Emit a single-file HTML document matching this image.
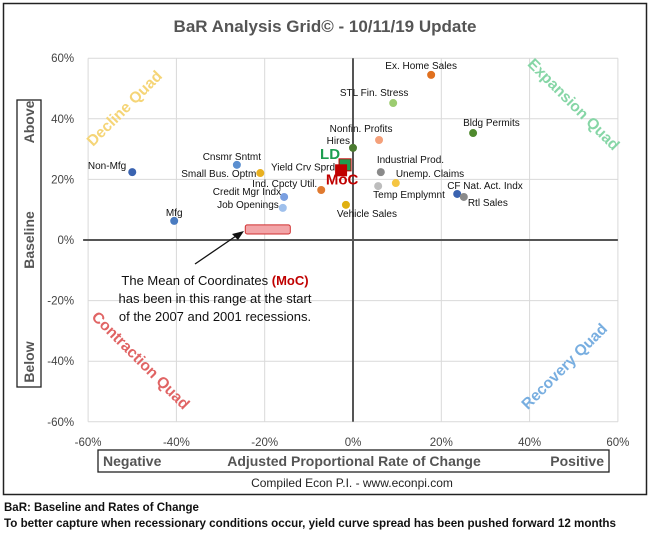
<!DOCTYPE html>
<html><head><meta charset="utf-8"><style>
body{margin:0;background:#fff;width:650px;height:532px;overflow:hidden;font-family:"Liberation Sans",sans-serif}
svg text{font-family:"Liberation Sans",sans-serif}
</style></head><body>
<svg id="chart" width="650" height="532" xmlns="http://www.w3.org/2000/svg">
<rect x="3.5" y="3.5" width="643" height="491" fill="#fff" stroke="#222" stroke-width="1.5"/>
<text x="325" y="32" text-anchor="middle" font-size="17" font-weight="bold" fill="#555">BaR Analysis Grid© - 10/11/19 Update</text>
<g id="grid"></g>
<g id="quads" font-size="15.5" font-weight="bold">
<text transform="translate(128,112) rotate(-45)" text-anchor="middle" fill="#f5d577">Decline Quad</text>
<text transform="translate(570,108) rotate(45)" text-anchor="middle" fill="#86d6a6">Expansion Quad</text>
<text transform="translate(137,364) rotate(45)" text-anchor="middle" fill="#e06464">Contraction Quad</text>
<text transform="translate(568,370) rotate(-45)" text-anchor="middle" fill="#78aee0">Recovery Quad</text>
</g>
<g id="marks"></g>
<g font-size="13" fill="#111" text-anchor="middle">
<text x="215" y="285">The Mean of Coordinates <tspan fill="#c00000" font-weight="bold">(MoC)</tspan></text>
<text x="215" y="303">has been in this range at the start</text>
<text x="215" y="321">of the 2007 and 2001 recessions.</text>
<line x1="195" y1="264" x2="236" y2="236" stroke="#111" stroke-width="1.3"/>
<polygon points="244,231 232,234 238,240" fill="#111"/>
</g>
<rect x="17" y="100" width="24" height="287" fill="none" stroke="#222" stroke-width="1.3"/>
<g font-size="14" font-weight="bold" fill="#555">
<text transform="translate(34,122) rotate(-90)" text-anchor="middle">Above</text>
<text transform="translate(34,240) rotate(-90)" text-anchor="middle">Baseline</text>
<text transform="translate(34,362) rotate(-90)" text-anchor="middle">Below</text>
</g>
<rect x="98" y="450" width="511" height="22" fill="none" stroke="#222" stroke-width="1.3"/>
<g font-size="14" font-weight="bold" fill="#555">
<text x="103" y="466">Negative</text>
<text x="354" y="466" text-anchor="middle">Adjusted Proportional Rate of Change</text>
<text x="604" y="466" text-anchor="end">Positive</text>
</g>
<text x="352" y="487" text-anchor="middle" font-size="12" fill="#222">Compiled Econ P.I. - www.econpi.com</text>
<text x="4" y="511" font-size="11.5" font-weight="bold" fill="#111">BaR: Baseline and Rates of Change</text>
<text x="4" y="527" font-size="11.5" font-weight="bold" fill="#111" textLength="612" lengthAdjust="spacingAndGlyphs">To better capture when recessionary conditions occur, yield curve spread has been pushed forward 12 months</text>
</svg>
<script>
const ticks=[-60,-40,-20,0,20,40,60];
const tickLabels=["-60%","-40%","-20%","0%","20%","40%","60%"];
const names=["Ex. Home Sales","STL Fin. Stress","Bldg Permits","Nonfin. Profits","Hires","Industrial Prod.","Unemp. Claims","Temp Emplymnt","CF Nat. Act. Indx","Rtl Sales","Non-Mfg","Cnsmr Sntmt","Small Bus. Optm","Ind. Cpcty Util.","Credit Mgr Indx","Job Openings","Mfg","Vehicle Sales","Yield Crv Sprd"];
const xVals=[17.7,9.1,27.2,5.9,0.0,6.3,9.7,5.7,23.6,25.1,-50.0,-26.3,-21.0,-7.2,-15.6,-15.9,-40.5,-1.6,-2.7];
const yVals=[54.5,45.2,35.3,33.0,30.4,22.4,18.8,17.8,15.2,14.2,22.4,24.8,22.1,16.5,14.2,10.6,6.3,11.6,23.0];
const colors=["#e0701f","#9ccc70","#4f8a2e","#f4a07a","#4a7a30","#8a8a8a","#f5c542","#bdbdbd","#3a63b0","#8a8a8a","#3a63b0","#5b8fd0","#e8b020","#e07a30","#7a9fe0","#9fc0ec","#4a7bc0","#e0b010","#c00000"];
const labelPos=[[-10,-6,"middle"],[-19,-7,"middle"],[-10,-7,"start"],[-18,-8,"middle"],[-3,-4,"end"],[-4,-9,"start"],[0,-6,"start"],[-5,12,"start"],[-10,-5,"start"],[4,9,"start"],[-6,-3,"end"],[-5,-5,"middle"],[-4,4,"end"],[-4,-3,"end"],[-3,-2,"end"],[-4,0,"end"],[0,-5,"middle"],[-9,12,"start"],[-6,0,"end"]];
const LD=[-1.8,24.8], MoC=[-2.7,23.0];
const band=[-24.4,-14.2,5.0,2.0];
const X=v=>353+v*4.415, Y=v=>240-v*3.03;
const NS="http://www.w3.org/2000/svg";
function mk(tag,attrs,parent,txt){const e=document.createElementNS(NS,tag);for(const k in attrs)e.setAttribute(k,attrs[k]);if(txt!==undefined)e.textContent=txt;parent.appendChild(e);return e;}
const g=document.getElementById('grid'), m=document.getElementById('marks');
ticks.forEach((t,i)=>{
 if(t!==0){
  const a=mk('line',{x1:X(t),x2:X(t),y1:Y(60),y2:Y(-60),stroke:'#d9d9d9'},g);
  
  
  const b=mk('line',{x1:X(-60),x2:X(60),y1:Y(t),y2:Y(t),stroke:'#d9d9d9'},g);
  
  
 }
 const xl=mk('text',{x:X(t),y:Y(-60)+24,'text-anchor':'middle','font-size':11.5,fill:'#444'},g,tickLabels[i]);
 
 
 const yl=mk('text',{x:X(-60)-14,y:Y(t)+4,'text-anchor':'end','font-size':11.5,fill:'#444'},g,tickLabels[i]);
 
 
});
const za=mk('line',{x1:X(-60)-5,x2:X(60),y1:Y(0),y2:Y(0),stroke:'#555','stroke-width':2},g);


const zb=mk('line',{x1:X(0),x2:X(0),y1:Y(60),y2:Y(-60),stroke:'#555','stroke-width':2},g);


const br=mk('rect',{x:X(band[0]),y:Y(band[2]),width:X(band[1])-X(band[0]),height:Y(band[3])-Y(band[2]),rx:2,fill:'#f2a5a8',stroke:'#d03030'},m);


names.forEach((n,i)=>{
 const c=mk('circle',{cx:X(xVals[i]),cy:Y(yVals[i]),r:4,fill:colors[i]},m);
 
 
 const p=labelPos[i];
 const t=mk('text',{x:X(xVals[i])+p[0],y:Y(yVals[i])+p[1],'text-anchor':p[2],'font-size':10,fill:'#111'},m,n);
 
 
});
const ld=mk('rect',{x:X(LD[0])-6,y:Y(LD[1])-6,width:12,height:12,fill:'#1e9e50',stroke:'#c00000','stroke-width':1},m);


const ldt=mk('text',{x:X(LD[0])-5,y:Y(LD[1])-6,'text-anchor':'end','font-size':15,'font-weight':'bold',fill:'#1e9e50'},m,'LD');


const mc=mk('rect',{x:X(MoC[0])-6,y:Y(MoC[1])-6,width:12,height:12,fill:'#c00000'},m);


const mct=mk('text',{x:X(MoC[0])+1,y:Y(MoC[1])+14,'text-anchor':'middle','font-size':15,'font-weight':'bold',fill:'#c00000'},m,'MoC');


</script>
</body></html>
